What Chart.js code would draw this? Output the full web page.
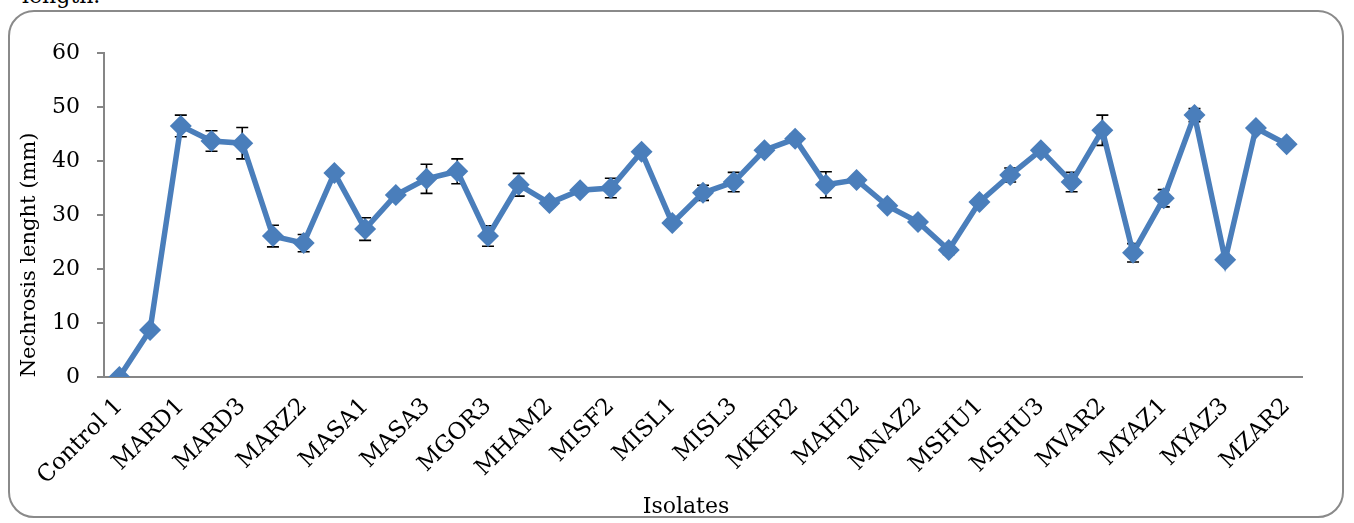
<!DOCTYPE html>
<html>
<head>
<meta charset="utf-8">
<script src="https://cdn.jsdelivr.net/npm/chart.js@4.4.1/dist/chart.umd.min.js"></script>
<style>
  html, body { margin: 0; padding: 0; background: #fff; overflow: hidden; }
  #wrap { position: relative; width: 1354px; height: 523px; }
  #frame {
    position: absolute; left: 8px; top: 10px; width: 1336px; height: 508px;
    border: 2px solid #8a8a8a; border-radius: 26px; box-sizing: border-box;
  }
  #cut { position: absolute; left: 22px; top: -17px; font: 22px "DejaVu Serif", serif; color: #000; }
  canvas { position: absolute; left: 0; top: 0; }
</style>
</head>
<body>
<div id="wrap">
  <div id="cut">length.</div>
  <div id="frame"></div>
  <canvas id="c" width="1354" height="523"></canvas>
</div>
<script>
const isolates = ["Control 1", "Control 2", "MARD1", "MARD2", "MARD3", "MARZ1", "MARZ2", "MARZ3",
  "MASA1", "MASA2", "MASA3", "MGOR2", "MGOR3", "MHAM1", "MHAM2", "MISF1", "MISF2", "MISF3",
  "MISL1", "MISL2", "MISL3", "MKER1", "MKER2", "MAHI1", "MAHI2", "MNAZ1", "MNAZ2", "MNAZ3",
  "MSHU1", "MSHU2", "MSHU3", "MVAR1", "MVAR2", "MVAR3", "MYAZ1", "MYAZ2", "MYAZ3", "MZAR1", "MZAR2"];
const necrosis = [0, 8.7, 46.5, 43.7, 43.3, 26.1, 24.8, 37.8, 27.4, 33.7, 36.7, 38.1, 26.1,
  35.6, 32.2, 34.6, 35.0, 41.7, 28.5, 34.1, 36.1, 42.0, 44.1, 35.6, 36.5, 31.7, 28.7, 23.5,
  32.4, 37.4, 42.0, 36.1, 45.7, 23.0, 33.1, 48.5, 21.7, 46.1, 43.1];
const errors = [0, 0, 2.0, 1.9, 2.9, 2.0, 1.6, 0.5, 2.1, 0.3, 2.7, 2.3, 1.9,
  2.1, 0.6, 0.3, 1.8, 0.5, 0.3, 1.4, 1.8, 0.5, 0.8, 2.4, 0.5, 0.3, 0.3, 0.8,
  0.3, 1.3, 0.3, 1.8, 2.8, 1.7, 1.6, 1.2, 0.3, 0.3, 0.5];
const yTicks = [0, 10, 20, 30, 40, 50, 60];

const serif = "'DejaVu Serif', serif";
const grey = "#868686";
const blue = "#4a7ebb";

// error bars are drawn under the line so the markers cover their middle
const errorBars = {
  id: "errorBars",
  beforeDatasetsDraw(chart) {
    const { ctx, scales: { x, y } } = chart;
    ctx.save();
    ctx.strokeStyle = "#000";
    ctx.lineWidth = 1.6;
    necrosis.forEach((v, i) => {
      const e = errors[i];
      if (!e) return;
      const px = x.getPixelForValue(i);
      const top = y.getPixelForValue(v + e);
      const bot = y.getPixelForValue(v - e);
      ctx.beginPath();
      ctx.moveTo(px, top); ctx.lineTo(px, bot);
      ctx.moveTo(px - 6, top); ctx.lineTo(px + 6, top);
      ctx.moveTo(px - 6, bot); ctx.lineTo(px + 6, bot);
      ctx.stroke();
    });
    ctx.restore();
  }
};

const axisTitles = {
  id: "axisTitles",
  afterDraw(chart) {
    const { ctx } = chart;
    ctx.save();
    ctx.fillStyle = "#000";
    ctx.textAlign = "center";
    ctx.textBaseline = "middle";
    ctx.font = "22px " + serif;
    ctx.fillText("Isolates", 686, 507);
    ctx.font = "21px " + serif;
    ctx.translate(30, 255);
    ctx.rotate(-Math.PI / 2);
    ctx.fillText("Nechrosis lenght (mm)", 0, 0);
    ctx.restore();
  }
};

new Chart(document.getElementById("c"), {
  type: "line",
  data: {
    labels: isolates,
    datasets: [{
      data: necrosis,
      borderColor: blue,
      backgroundColor: blue,
      borderWidth: 5.5,
      pointStyle: "rectRot",
      pointRadius: 11,
      pointBorderWidth: 0,
      pointBackgroundColor: blue,
      tension: 0
    }]
  },
  options: {
    responsive: false,
    animation: false,
    layout: { padding: { left: 0, top: 53, right: 52, bottom: 0 } },
    plugins: { legend: { display: false }, tooltip: { enabled: false } },
    scales: {
      x: {
        offset: true,
        afterFit: s => { s.height = 523 - 53 - 324; },
        grid: { display: false, drawTicks: false },
        border: { display: true, color: grey, width: 2 },
        ticks: {
          autoSkip: false,
          maxRotation: 45,
          minRotation: 45,
          padding: 16,
          color: "#000",
          font: { family: serif, size: 23 },
          callback: (v, i) => (i % 2 === 0 ? isolates[i] : "")
        }
      },
      y: {
        min: 0,
        max: 60,
        afterFit: s => { s.width = 104; },
        afterBuildTicks: s => { s.ticks = yTicks.map(v => ({ value: v })); },
        grid: { drawOnChartArea: false, drawTicks: true, tickLength: 7, color: grey, lineWidth: 2 },
        border: { display: true, color: grey, width: 2 },
        ticks: { padding: 17, color: "#000", font: { family: serif, size: 22 } }
      }
    }
  },
  plugins: [errorBars, axisTitles]
});
</script>
</body>
</html>
